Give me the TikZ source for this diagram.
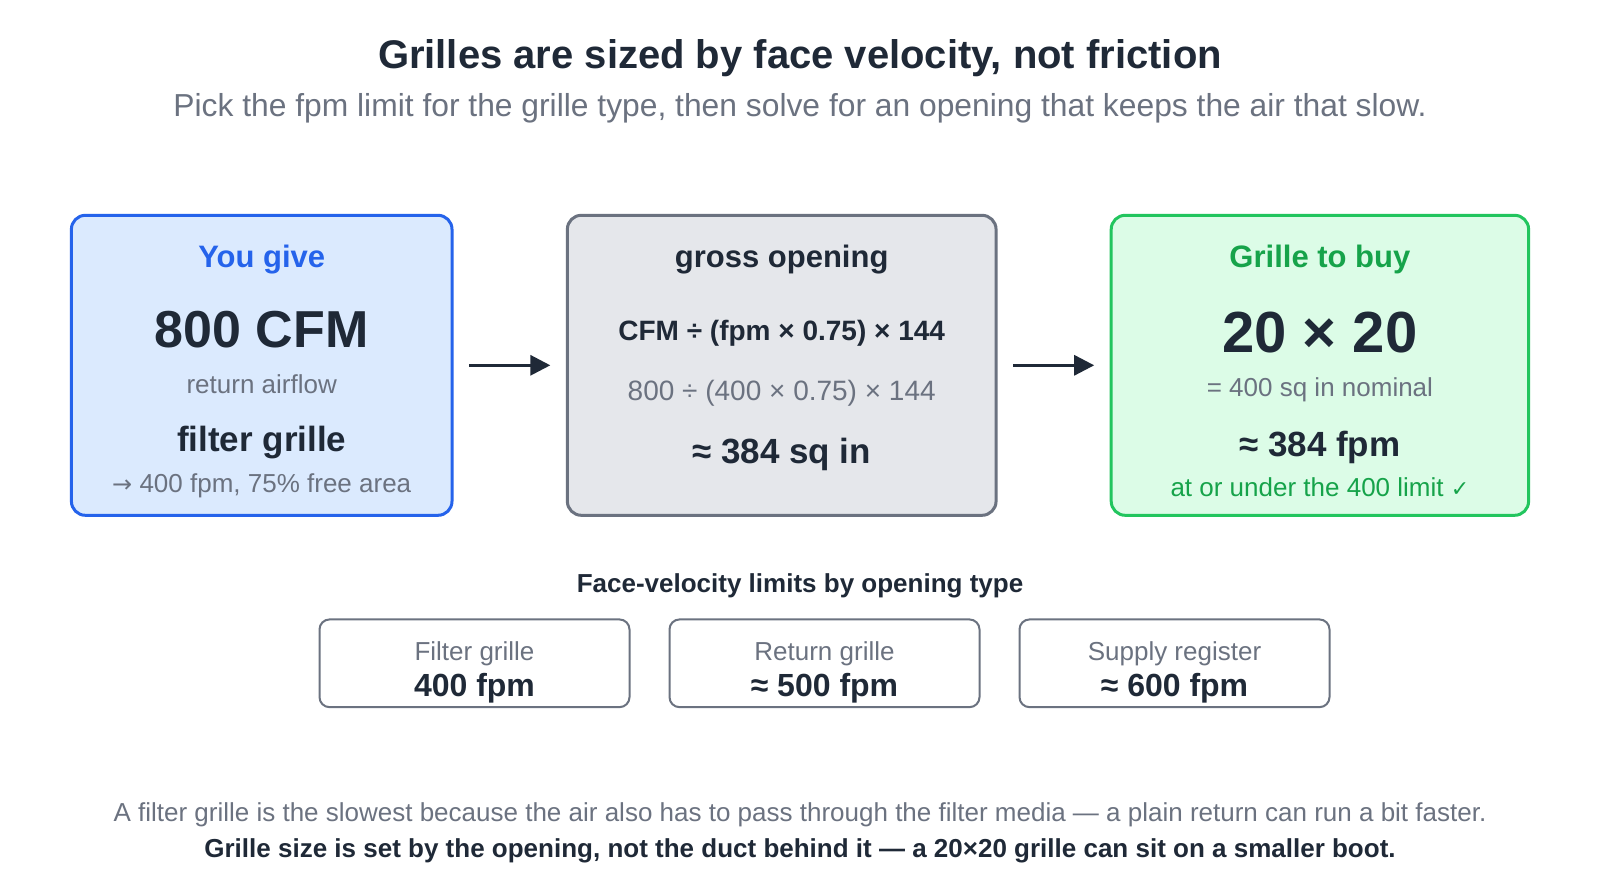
\documentclass[tikz,border=0pt]{standalone}
\usepackage{fontspec}
\setmainfont{Liberation Sans}
\newfontfamily\symfont{DejaVu Sans}
\usepackage{tikz}
\usetikzlibrary{arrows.meta}

\definecolor{ink}{HTML}{1F2937}
\definecolor{muted}{HTML}{6B7280}
\definecolor{blueline}{HTML}{2563EB}
\definecolor{bluefill}{HTML}{DBEAFE}
\definecolor{grayline}{HTML}{6B7280}
\definecolor{grayfill}{HTML}{E5E7EB}
\definecolor{greenline}{HTML}{22C55E}
\definecolor{greenfill}{HTML}{DCFCE7}
\definecolor{greentext}{HTML}{16A34A}

\newcommand{\fsz}[1]{\fontsize{#1}{#1}\selectfont}

\begin{document}
\begin{tikzpicture}[x=1pt, y=-1pt,
    card/.style={draw, line width=3pt, rounded corners=14pt, minimum height=300pt, inner sep=0pt},
    limit/.style={draw=grayline, fill=white, line width=2pt, rounded corners=10pt, minimum width=310pt, minimum height=87.7pt, inner sep=0pt},
    txt/.style={inner sep=0pt, text=ink},
    arrow/.style={draw=ink, line width=3pt, -{Triangle[length=20pt,width=20pt]}, shorten <=15.5pt, shorten >=15.5pt}]
    \useasboundingbox[fill=white] (0,0) rectangle (1600,880);

    % heading
    \node[txt, font=\fsz{40}\bfseries] at (800,58) (H0) {Grilles are sized by face velocity, not friction};
    \node[txt, text=muted, font=\fsz{31.8}] at (800,108.5) (H1) {Pick the fpm limit for the grille type, then solve for an opening that keeps the air that slow.};

    % the three cards
    \node[card, draw=blueline, fill=bluefill, minimum width=380.6pt] at (261.7,365.3) (B0) {};
    \node[card, draw=grayline, fill=grayfill, minimum width=428.7pt] at (781.7,365.3) (B1) {};
    \node[card, draw=greenline, fill=greenfill, minimum width=417.4pt] at (1319.9,365.3) (B2) {};

    \node[txt, text=blueline, font=\fsz{31}\bfseries] at (261.7,260) (B0a) {You give};
    \node[txt, font=\fsz{52}\bfseries] at (261.7,330) (B0b) {800 CFM};
    \node[txt, text=muted, font=\fsz{26}] at (261.7,384) (B0c) {return airflow};
    \node[txt, font=\fsz{35}\bfseries] at (261.7,442.5) (B0d) {filter grille};
    \node[txt, text=muted, font=\fsz{26}] at (261.7,485.5) (B0e) {{\symfont\fsz{24}→} 400 fpm, 75\% free area};

    \node[txt, font=\fsz{31}\bfseries] at (781.7,260) (B1a) {gross opening};
    \node[txt, font=\fsz{28}\bfseries] at (781.7,333) (B1b) {CFM ÷ (fpm × 0.75) × 144};
    \node[txt, text=muted, font=\fsz{28}] at (781.7,393) (B1c) {800 ÷ (400 × 0.75) × 144};
    \node[txt, font=\fsz{35}\bfseries] at (781.7,454) (B1d) {≈ 384 sq in};

    \node[txt, text=greentext, font=\fsz{31}\bfseries] at (1319.9,259.5) (B2a) {Grille to buy};
    \node[txt, font=\fsz{58}\bfseries] at (1319.9,332.6) (B2b) {20 × 20};
    \node[txt, text=muted, font=\fsz{26}] at (1319.9,389.7) (B2c) {= 400 sq in nominal};
    \node[txt, font=\fsz{35}\bfseries] at (1319.9,447) (B2d) {≈ 384 fpm};
    \node[txt, text=greentext, font=\fsz{26}] at (1319.9,487) (B2e) {at or under the 400 limit {\symfont\fsz{22}✓}};

    \path (B0) edge[arrow] (B1);
    \path (B1) edge[arrow] (B2);

    % limits table
    \node[txt, font=\fsz{26}\bfseries] at (800,586) (L) {Face-velocity limits by opening type};
    \node[limit] at (474.5,663.3) (L0) {};
    \node[limit] at (824.5,663.3) (L1) {};
    \node[limit] at (1174.5,663.3) (L2) {};
    \node[txt, text=muted, font=\fsz{26}] at (474.5,654) (L0a) {Filter grille};
    \node[txt, font=\fsz{32}\bfseries] at (474.5,688.5) (L0b) {400 fpm};
    \node[txt, text=muted, font=\fsz{26}] at (824.5,654) (L1a) {Return grille};
    \node[txt, font=\fsz{32}\bfseries] at (824.5,688.5) (L1b) {≈ 500 fpm};
    \node[txt, text=muted, font=\fsz{26}] at (1174.5,654) (L2a) {Supply register};
    \node[txt, font=\fsz{32}\bfseries] at (1174.5,688.5) (L2b) {≈ 600 fpm};

    % footer
    \node[txt, text=muted, font=\fsz{26}] at (800,814.5) (F0) {A filter grille is the slowest because the air also has to pass through the filter media — a plain return can run a bit faster.};
    \node[txt, font=\fsz{26}\bfseries] at (800,850.5) (F1) {Grille size is set by the opening, not the duct behind it — a 20×20 grille can sit on a smaller boot.};
\end{tikzpicture}
\end{document}
